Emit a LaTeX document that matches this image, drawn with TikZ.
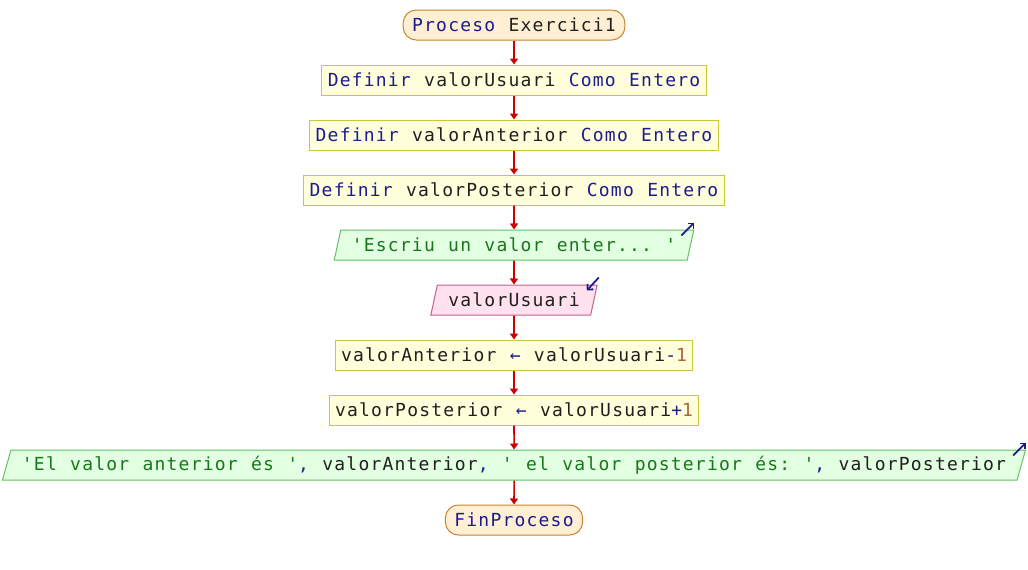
\documentclass[tikz,border=0pt]{standalone}
\usepackage{fontspec}
\setmonofont{DejaVu Sans Mono}[LetterSpace=6.7,WordSpace=1.11]
\usetikzlibrary{shapes.geometric,arrows.meta}
\definecolor{kwblue}{HTML}{1C1C8E}
\definecolor{strgreen}{HTML}{18761C}
\definecolor{numbrown}{HTML}{A8643A}
\definecolor{idgray}{HTML}{202020}
\definecolor{flowred}{HTML}{CC0000}
\definecolor{termfill}{HTML}{FFF0D4}
\definecolor{termedge}{HTML}{C8822E}
\definecolor{procfill}{HTML}{FFFFDC}
\definecolor{procedge}{HTML}{C8C83A}
\definecolor{outfill}{HTML}{E2FFE2}
\definecolor{outedge}{HTML}{62C262}
\definecolor{infill}{HTML}{FFE2EE}
\definecolor{inedge}{HTML}{C2628E}
\newcommand{\kw}[1]{\textcolor{kwblue}{#1}}
\newcommand{\strg}[1]{\textcolor{strgreen}{#1}}
\newcommand{\nmb}[1]{\textcolor{numbrown}{#1}}

\begin{document}
\begin{tikzpicture}[x=1pt,y=-1pt,
  every node/.style={font=\ttfamily\fontsize{18}{22}\selectfont,text=idgray,minimum height=30pt,inner ysep=0pt,line width=1pt},
  term/.style={draw=termedge,fill=termfill,rounded corners=13pt,inner xsep=9pt},
  proc/.style={draw=procedge,fill=procfill,inner xsep=6pt},
  outp/.style={trapezium,trapezium stretches=true,trapezium left angle=65,trapezium right angle=115,draw=outedge,fill=outfill,inner xsep=11pt},
  inp/.style={outp,draw=inedge,fill=infill},
  flow/.style={flowred,line width=1.6pt,-{Triangle[width=8pt,length=6pt]}},
  io/.style={kwblue,line width=1.8pt,-{Straight Barb[length=4pt,width=8pt]}}]

\useasboundingbox (0,0) rectangle (1028,570);

\node[term] (v1) at (514,25) {\kw{Proceso} Exercici1};
\node[proc] (v2) at (514,80) {\kw{Definir} valorUsuari \kw{Como} \kw{Entero}};
\node[proc] (v3) at (514,135) {\kw{Definir} valorAnterior \kw{Como} \kw{Entero}};
\node[proc] (v4) at (514,190) {\kw{Definir} valorPosterior \kw{Como} \kw{Entero}};
\node[outp] (v5) at (514,245) {\strg{'Escriu un valor enter... '}};
\node[inp] (v6) at (514,300) {valorUsuari};
\node[proc] (v7) at (514,355) {valorAnterior \kw{←} valorUsuari\kw{-}\nmb{1}};
\node[proc] (v8) at (514,410) {valorPosterior \kw{←} valorUsuari\kw{+}\nmb{1}};
\node[outp] (v9) at (514,465) {\strg{'El valor anterior és '}\kw{,} valorAnterior\kw{,} \strg{' el valor posterior és: '}\kw{,} valorPosterior};
\node[term] (v10) at (514,520) {\kw{FinProceso}};

\foreach \i/\j in {1/2,2/3,3/4,4/5,5/6,6/7,7/8,8/9,9/10}
\draw[flow] (v\i.south) -- (v\j.north);

% escriure / llegir
\draw[io] ([shift={(-13,6)}]v5.top right corner) -- ([shift={(0,-7)}]v5.top right corner);
\draw[io] ([shift={(1,-7)}]v6.top right corner) -- ([shift={(-11,6)}]v6.top right corner);
\draw[io] ([shift={(-13,6)}]v9.top right corner) -- ([shift={(0,-7)}]v9.top right corner);

\end{tikzpicture}
\end{document}
